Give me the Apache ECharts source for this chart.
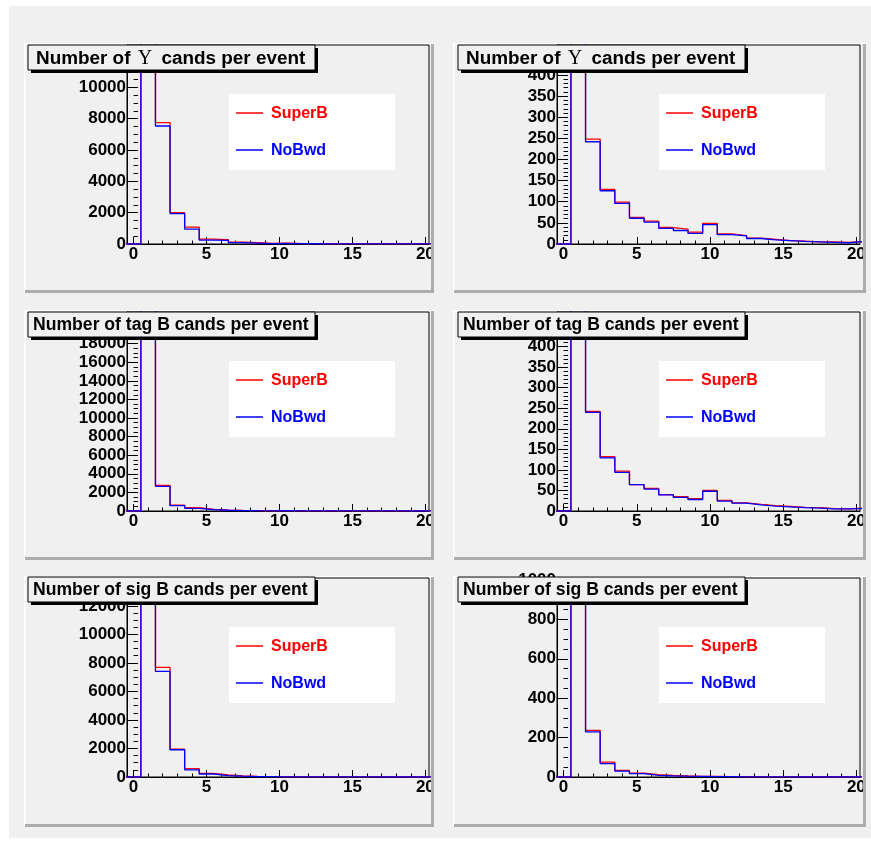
<!DOCTYPE html>
<html><head><meta charset="utf-8">
<script src="https://cdn.jsdelivr.net/npm/echarts@6/dist/echarts.min.js"></script>
<style>html,body{margin:0;padding:0;background:#fff}#c{width:871px;height:841px}</style>
</head><body><div id="c"></div>
<script>
// ---------- data ----------
const padTitles = [
  'Number of {u|Υ} cands per event',
  'Number of {u|Υ} cands per event',
  'Number of tag B cands per event',
  'Number of tag B cands per event',
  'Number of sig B cands per event',
  'Number of sig B cands per event'
];
const seriesNames = ['SuperB', 'NoBwd'];
const binCenters = [0,1,2,3,4,5,6,7,8,9,10,11,12,13,14,15,16,17,18,19,20];
const xMajorTicks = [0,5,10,15,20];
const xMinorTicks = [0,1,2,3,4,5,6,7,8,9,10,11,12,13,14,15,16,17,18,19,20];

const pad1SuperB = [0,40000,7750,2000,1080,310,280,120,80,40,50,25,18,12,9,7,5,4,3,3,3];
const pad1NoBwd  = [0,41000,7530,1940,950,250,230,90,60,30,45,22,16,11,8,6,5,4,3,2,3];
const pad2SuperB = [0,3000,248,129,99,63,54,39,35,28,49,24,20,14,11,8,7,5,5,4,5];
const pad2NoBwd  = [0,3100,242,126,96,61,52,37,32,25,46,22,19,13,10,8,6,5,4,3,6];
const pad3SuperB = [0,60000,2760,640,360,180,100,60,40,25,40,20,15,10,8,6,5,4,3,3,3];
const pad3NoBwd  = [0,61000,2650,570,290,140,80,50,30,22,35,18,13,9,7,5,4,3,3,2,3];
const pad4SuperB = [0,3000,242,132,97,64,55,40,35,30,50,26,20,16,13,11,9,8,6,5,7];
const pad4NoBwd  = [0,3100,240,129,94,64,53,39,33,28,48,24,19,15,12,10,8,7,5,5,6];
const pad5SuperB = [0,40000,7690,1950,590,260,140,70,40,25,15,10,7,5,4,3,2,2,1,1,1];
const pad5NoBwd  = [0,41000,7410,1910,500,210,95,55,30,20,12,8,6,4,3,2,2,1,1,1,1];
const pad6SuperB = [0,5000,237,76,34,20,12,8,5,3,3,2,2,1,1,1,1,0,0,0,0];
const pad6NoBwd  = [0,5100,229,68,30,17,8.5,6,4,3,2,2,1,1,1,1,0,0,0,0,0];

const xMin = -0.45, xMax = 20.25;
const yMax = [12700, 471, 21400, 484, 13950, 1010];
const yMajorTicks = [
  [0,2000,4000,6000,8000,10000,12000],
  [0,50,100,150,200,250,300,350,400,450],
  [0,2000,4000,6000,8000,10000,12000,14000,16000,18000,20000],
  [0,50,100,150,200,250,300,350,400,450],
  [0,2000,4000,6000,8000,10000,12000],
  [0,200,400,600,800,1000]
];
const yMinorSubdiv = [4,5,4,5,4,4];

const padData = [
  [pad1SuperB, pad1NoBwd], [pad2SuperB, pad2NoBwd],
  [pad3SuperB, pad3NoBwd], [pad4SuperB, pad4NoBwd],
  [pad5SuperB, pad5NoBwd], [pad6SuperB, pad6NoBwd]
];

// ---------- layout ----------
const FONT = '"Liberation Sans", Arial, Helvetica, sans-serif';
const colPad = [[24, 434], [453, 866]];
const rowPad = [[43, 293], [310, 560], [576, 827]];
const colFrame = [[127, 429], [557, 860]];
const rowFrame = [[45, 244], [312, 511], [578, 777]];
const colTitle = [[28, 315], [458, 745]];
const rowTitle = [45, 312, 577];
const colTitleText = [36, 466];
const rowTitleFont = [18.9, 17.6, 17.6];
const colLegend = [229, 659];
const rowLegend = [94, 361, 627];
const lineColors = ['#ff0000', '#0000ff'];

function histPoints(vals) {
  const pts = [[binCenters[0] - 0.5, vals[0]]];
  for (let i = 0; i < vals.length; i++) pts.push([binCenters[i] + 0.5, vals[i]]);
  return pts;
}
function minorTicks(major, sub, max) {
  const step = (major[1] - major[0]) / sub;
  const out = [];
  for (let v = 0; v <= max + 1e-9; v += step) out.push(+v.toFixed(6));
  return out;
}

const grids = [], xAxes = [], yAxes = [], series = [], graphics = [];

graphics.push({type: 'rect', z: -20, shape: {x: 9, y: 6, width: 862, height: 832}, style: {fill: '#f0f0f0'}});

for (let k = 0; k < 6; k++) {
  const c = k % 2, r = Math.floor(k / 2);
  const [px0, px1] = colPad[c], [py0, py1] = rowPad[r];
  const [fx0, fx1] = colFrame[c], [fy0, fy1] = rowFrame[r];

  // pad
  graphics.push({type: 'rect', z: -10, shape: {x: px0, y: py0, width: px1 - px0, height: py1 - py0}, style: {fill: '#f0f0f0'}});
  graphics.push({type: 'rect', z: -9, shape: {x: px0, y: py0, width: 1.5, height: py1 - py0}, style: {fill: '#ffffff'}});
  graphics.push({type: 'rect', z: -9, shape: {x: px0, y: py0, width: px1 - px0, height: 1.5}, style: {fill: '#ffffff'}});
  graphics.push({type: 'rect', z: -9, shape: {x: px0 + 1, y: py1 - 3, width: px1 - px0 - 1, height: 3}, style: {fill: '#adadad'}});
  // right edge of pad drawn above labels so that the "20" label is cut like in the original
  graphics.push({type: 'rect', z: 60, shape: {x: px1 - 3, y: py0 + 1, width: 3, height: py1 - py0 - 1}, style: {fill: '#adadad'}});
  graphics.push({type: 'rect', z: 60, shape: {x: px1, y: py0, width: 4, height: py1 - py0 + 1}, style: {fill: '#f0f0f0'}});

  grids.push({left: fx0, top: fy0, width: fx1 - fx0, height: fy1 - fy0, show: true,
    backgroundColor: 'transparent', borderColor: '#000', borderWidth: 1, containLabel: false});

  const labelStyle = {fontSize: 17, fontWeight: 'bold', fontFamily: FONT, color: '#000'};
  xAxes.push({type: 'value', gridIndex: k, min: xMin, max: xMax, position: 'bottom',
    axisLine: {show: true, onZero: false, lineStyle: {color: '#000', width: 1}},
    splitLine: {show: false},
    axisTick: {show: true, inside: true, length: 7, customValues: xMajorTicks, lineStyle: {color: '#000'}},
    axisLabel: Object.assign({customValues: xMajorTicks, margin: 2, formatter: v => String(v)}, labelStyle)});
  xAxes.push({type: 'value', gridIndex: k, min: xMin, max: xMax, position: 'bottom',
    axisLine: {show: false}, splitLine: {show: false}, axisLabel: {show: false},
    axisTick: {show: true, inside: true, length: 3.5, customValues: xMinorTicks, lineStyle: {color: '#000'}}});

  yAxes.push({type: 'value', gridIndex: k, min: 0, max: yMax[k], position: 'left',
    axisLine: {show: true, onZero: false, lineStyle: {color: '#000', width: 1}},
    splitLine: {show: false},
    axisTick: {show: true, inside: true, length: 9, customValues: yMajorTicks[k], lineStyle: {color: '#000'}},
    axisLabel: Object.assign({customValues: yMajorTicks[k], margin: 1, formatter: v => String(v)}, labelStyle)});
  yAxes.push({type: 'value', gridIndex: k, min: 0, max: yMax[k], position: 'left',
    axisLine: {show: false}, splitLine: {show: false}, axisLabel: {show: false},
    axisTick: {show: true, inside: true, length: 4.5, customValues: minorTicks(yMajorTicks[k], yMinorSubdiv[k], yMax[k]), lineStyle: {color: '#000'}}});

  for (let s = 0; s < 2; s++) {
    series.push({type: 'line', name: seriesNames[s], xAxisIndex: 2 * k, yAxisIndex: 2 * k,
      data: histPoints(padData[k][s]), step: 'start', symbol: 'none', clip: true,
      lineStyle: {color: lineColors[s], width: 1.3}, itemStyle: {color: lineColors[s]},
      z: 3 + s, animation: false});
  }

  // title box
  const [tx0, tx1] = colTitle[c], ty0 = rowTitle[r], th = 25;
  graphics.push({type: 'rect', z: 50, shape: {x: tx0 + 3, y: ty0 + 3, width: tx1 - tx0, height: th}, style: {fill: '#000'}});
  graphics.push({type: 'rect', z: 51, shape: {x: tx0, y: ty0, width: tx1 - tx0, height: th}, style: {fill: '#f0f0f0', stroke: '#000', lineWidth: 1}});
  graphics.push({type: 'text', z: 52, style: {text: padTitles[k], x: (r === 0 ? colTitleText[c] : colTitleText[c] - 3), y: ty0 + th / 2 + 1,
    verticalAlign: 'middle', fill: '#000', fontSize: rowTitleFont[r], fontWeight: 'bold', fontFamily: FONT,
    rich: {u: {fontFamily: '"Liberation Serif", "DejaVu Serif", serif', fontWeight: 'normal', fontSize: 20, fill: '#000', padding: [0, 4, 0, 2]}}}});

  // legend
  const bx = colLegend[c], by = rowLegend[r];
  graphics.push({type: 'rect', z: 50, shape: {x: bx, y: by, width: 166, height: 76}, style: {fill: '#ffffff'}});
  for (let s = 0; s < 2; s++) {
    const ly = by + (s === 0 ? 19 : 56);
    graphics.push({type: 'line', z: 51, shape: {x1: bx + 7, y1: ly, x2: bx + 34, y2: ly}, style: {stroke: lineColors[s], lineWidth: 1.5}});
    graphics.push({type: 'text', z: 51, style: {text: seriesNames[s], x: bx + 42, y: ly + 1, verticalAlign: 'middle',
      fill: lineColors[s], fontSize: 16, fontWeight: 'bold', fontFamily: FONT}});
  }
}

const chart = echarts.init(document.getElementById('c'), null, {renderer: 'canvas', width: 871, height: 841});
chart.setOption({
  animation: false,
  backgroundColor: '#ffffff',
  grid: grids, xAxis: xAxes, yAxis: yAxes, series: series,
  graphic: {elements: graphics}
});
</script>
</body></html>
